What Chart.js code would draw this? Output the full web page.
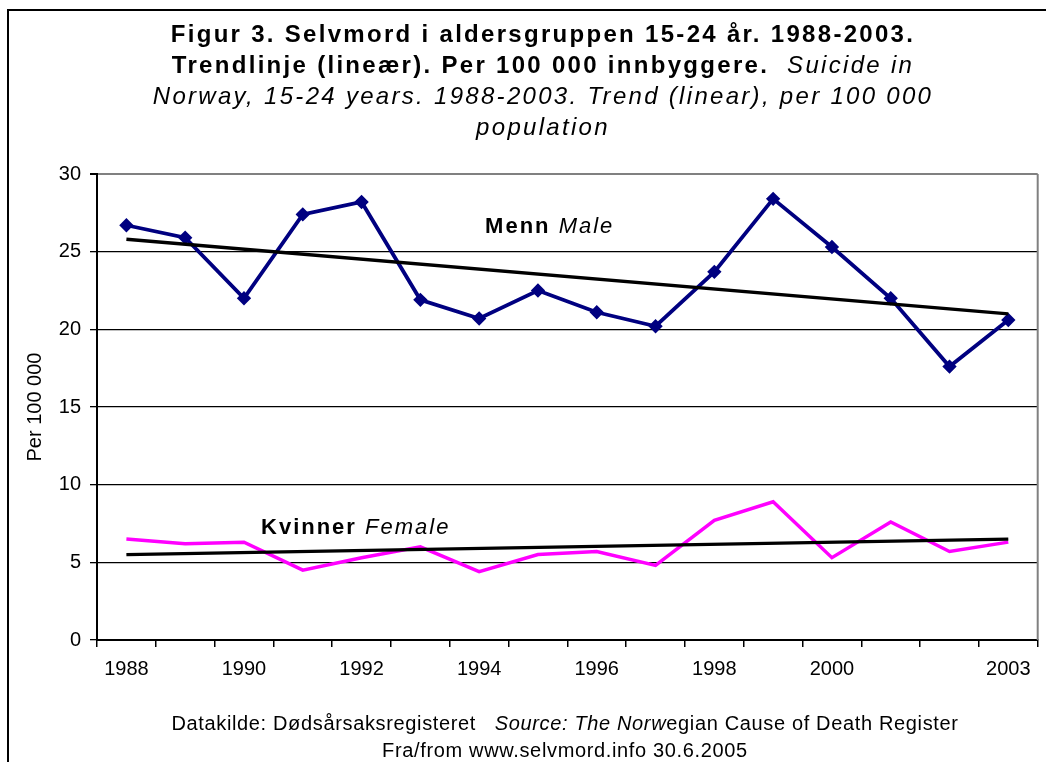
<!DOCTYPE html>
<html>
<head>
<meta charset="utf-8">
<title>Selvmord 15-24 år</title>
<script src="https://cdn.jsdelivr.net/npm/chart.js@4.4.0/dist/chart.umd.min.js"></script>
<style>
  html, body { margin: 0; padding: 0; background: #fff; }
  canvas { display: block; }
</style>
</head>
<body>
<canvas id="suicideChart" width="1046" height="762"></canvas>
<script>
// data
const years = ['1988', '1989', '1990', '1991', '1992', '1993', '1994', '1995',
               '1996', '1997', '1998', '1999', '2000', '2001', '2002', '2003'];
const xTickLabels = ['1988', '', '1990', '', '1992', '', '1994', '', '1996', '',
                     '1998', '', '2000', '', '', '2003'];
const male = [26.7, 25.9, 22.0, 27.4, 28.2, 21.9, 20.7, 22.5, 21.1, 20.2, 23.7, 28.4, 25.3, 22.0, 17.6, 20.6];
const female = [6.5, 6.2, 6.3, 4.5, 5.3, 6.0, 4.4, 5.5, 5.7, 4.8, 7.7, 8.9, 5.3, 7.6, 5.7, 6.3];
const maleTrend = [25.8, null, null, null, null, null, null, null, null, null, null, null, null, null, null, 21.0];
const femaleTrend = [5.5, null, null, null, null, null, null, null, null, null, null, null, null, null, null, 6.5];
const yMin = 0, yMax = 30, yStep = 5;

const titleLines = [
    [['bold', 'Figur 3. Selvmord i aldersgruppen 15-24 år. 1988-2003.']],
    [['bold', 'Trendlinje (lineær). Per 100 000 innbyggere.'], ['italic', '  Suicide in']],
    [['italic', 'Norway, 15-24 years. 1988-2003. Trend (linear), per 100 000']],
    [['italic', 'population']]
];
const footerLines = [
    [['normal', 'Datakilde: Dødsårsaksregisteret   '], ['italic', 'Source: The Norw'], ['normal', 'egian Cause of Death Register']],
    [['normal', 'Fra/from www.selvmord.info 30.6.2005']]
];
// series labels: [bold part, italic part, category index, value]
const maleLabel = ['Menn', ' Male', 7.2, 26.6];
const femaleLabel = ['Kvinner', ' Female', 3.9, 7.2];

const FONT = "'Liberation Sans', Arial, sans-serif";

function drawMixed(ctx, parts, cx, cy, size, spacing) {
    const fontFor = (style) => {
        if (style === 'bold') return `bold ${size}px ${FONT}`;
        if (style === 'italic') return `italic ${size}px ${FONT}`;
        return `${size}px ${FONT}`;
    };
    ctx.letterSpacing = spacing + 'px';
    let total = 0;
    const widths = parts.map(([style, text]) => {
        ctx.font = fontFor(style);
        const w = ctx.measureText(text).width;
        total += w;
        return w;
    });
    let x = cx - total / 2;
    ctx.textAlign = 'left';
    ctx.textBaseline = 'middle';
    ctx.fillStyle = '#000';
    parts.forEach(([style, text], i) => {
        ctx.font = fontFor(style);
        ctx.fillText(text, x, cy);
        x += widths[i];
    });
    ctx.letterSpacing = '0px';
}

const decorPlugin = {
    id: 'decor',
    beforeDatasetsDraw(chart) {
        const { ctx, chartArea } = chart;
        ctx.save();
        // gray plot frame on the right side
        ctx.strokeStyle = '#808080';
        ctx.lineWidth = 2;
        ctx.beginPath();
        ctx.moveTo(chartArea.right, chartArea.top);
        ctx.lineTo(chartArea.right, chartArea.bottom);
        ctx.stroke();
        ctx.restore();
    },
    afterDatasetsDraw(chart) {
        const { ctx, scales } = chart;
        ctx.save();
        [maleLabel, femaleLabel].forEach(([b, it, idx, val]) => {
            const x = scales.x.getPixelForValue(idx);
            const y = scales.y.getPixelForValue(val);
            drawMixed(ctx, [['bold', b], ['italic', it]], x, y, 22, 2);
        });
        ctx.restore();
    },
    afterDraw(chart) {
        const { ctx, width } = chart;
        ctx.save();
        // outer frame
        ctx.strokeStyle = '#000';
        ctx.lineWidth = 2;
        ctx.strokeRect(8, 10, width + 20, 800);
        titleLines.forEach((parts, i) => {
            drawMixed(ctx, parts, 543, 35 + i * 31, 24, 2.3);
        });
        footerLines.forEach((parts, i) => {
            drawMixed(ctx, parts, 565, 724 + i * 27, 20, 0.65);
        });
        ctx.restore();
    }
};

new Chart(document.getElementById('suicideChart'), {
    type: 'line',
    data: {
        labels: years,
        datasets: [
            {
                label: 'Trend Menn',
                data: maleTrend,
                borderColor: '#000',
                borderWidth: 3.3,
                pointRadius: 0,
                spanGaps: true,
                order: 1
            },
            {
                label: 'Trend Kvinner',
                data: femaleTrend,
                borderColor: '#000',
                borderWidth: 3.3,
                pointRadius: 0,
                spanGaps: true,
                order: 1
            },
            {
                label: 'Menn',
                data: male,
                borderColor: '#000080',
                backgroundColor: '#000080',
                borderWidth: 3.8,
                pointStyle: 'rectRot',
                pointRadius: 4.5,
                pointBackgroundColor: '#000080',
                pointBorderColor: '#000080',
                tension: 0,
                order: 2
            },
            {
                label: 'Kvinner',
                data: female,
                borderColor: '#FF00FF',
                borderWidth: 3.5,
                pointRadius: 0,
                tension: 0,
                order: 2
            }
        ]
    },
    options: {
        responsive: false,
        animation: false,
        devicePixelRatio: 1,
        layout: { padding: { top: 174, right: 3, bottom: 72, left: 0 } },
        plugins: {
            legend: { display: false },
            tooltip: { enabled: false },
            title: { display: false }
        },
        scales: {
            x: {
                offset: true,
                afterFit: (scale) => { scale.height = 50; },
                grid: {
                    offset: true,
                    drawOnChartArea: false,
                    drawTicks: true,
                    tickLength: 7,
                    color: '#000',
                    lineWidth: 1.5
                },
                border: { display: true, color: '#000', width: 2 },
                ticks: {
                    autoSkip: false,
                    maxRotation: 0,
                    padding: 10,
                    color: '#000',
                    font: { family: FONT, size: 20 },
                    callback: (value, index) => xTickLabels[index]
                }
            },
            y: {
                min: yMin,
                max: yMax,
                afterFit: (scale) => { scale.width = 97; },
                ticks: {
                    stepSize: yStep,
                    padding: 9,
                    color: '#000',
                    font: { family: FONT, size: 20 }
                },
                grid: {
                    color: (c) => (c.tick && c.tick.value === yMax ? '#808080' : '#000'),
                    lineWidth: (c) => (c.tick && c.tick.value === yMax ? 2 : 1.3),
                    tickColor: '#000',
                    tickLength: 7
                },
                border: { display: true, color: '#000', width: 2 },
                title: {
                    display: true,
                    text: 'Per 100 000',
                    color: '#000',
                    font: { family: FONT, size: 20 },
                    padding: { top: 23, bottom: 0 }
                }
            }
        }
    },
    plugins: [decorPlugin]
});
</script>
</body>
</html>
